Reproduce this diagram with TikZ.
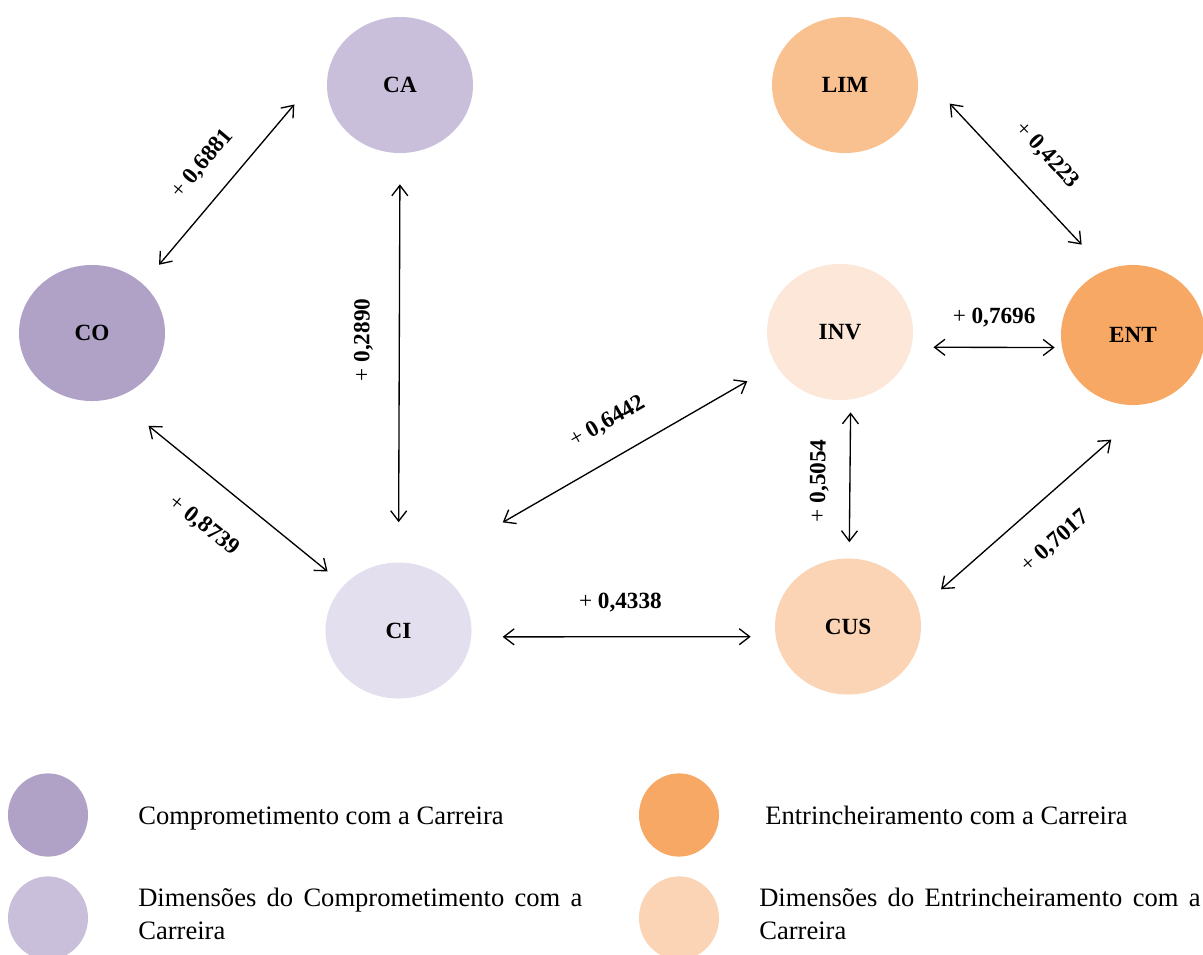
\documentclass[tikz,border=0pt]{standalone}
\usepackage{fontspec}
\setmainfont{Liberation Serif}
\usetikzlibrary{shapes.geometric,arrows.meta}

\definecolor{cocol}{HTML}{B0A2C7}
\definecolor{cacol}{HTML}{C9BFDB}
\definecolor{cicol}{HTML}{E4DFEE}
\definecolor{limcol}{HTML}{F9C190}
\definecolor{entcol}{HTML}{F7A864}
\definecolor{invcol}{HTML}{FCE7D8}
\definecolor{cuscol}{HTML}{FAD4B4}

\tikzset{
  constr/.style={ellipse, inner sep=0pt, minimum width=3.65cm, minimum height=3.4cm,
    font=\fontsize{16.5}{20}\selectfont\bfseries},
  link/.style={{Straight Barb[length=0.26cm,width=0.4cm]}-{Straight Barb[length=0.26cm,width=0.4cm]},
    line width=0.95pt},
  coef/.style={sloped, inner sep=0pt, font=\fontsize{16.5}{20}\selectfont},
  legdot/.style={ellipse, inner sep=0pt, minimum width=2cm, minimum height=2.08cm},
  legtext/.style={anchor=base west, inner sep=0pt, font=\fontsize{18.9}{23.5}\selectfont},
}

\begin{document}
\begin{tikzpicture}[x=0.025cm, y=-0.025cm]
    \useasboundingbox (0,0) rectangle (1203,954);
    % constructos
    \node[constr, fill=cacol] (ca) at (400,85) {CA};
    \node[constr, fill=limcol] (lim) at (845,85) {LIM};
    \node[constr, fill=cocol] (co) at (92,333) {CO};
    \node[constr, fill=invcol] (inv) at (840,332) {INV};
    \node[constr, fill=entcol, minimum width=3.6cm, minimum height=3.5cm] (ent) at (1133,335) {ENT};
    \node[constr, fill=cicol] (ci) at (398.5,630.5) {CI};
    \node[constr, fill=cuscol] (cus) at (848,626.5) {CUS};
    % correlacoes
    \draw[link, shorten <=0.625cm, shorten >=1.45cm] (co.44) -- (ca.160)
        node[coef, pos=.444, above=0.54cm] {+ \textbf{0,6881}};
    \draw[link, shorten <=1cm, shorten >=0.775cm] (ci.north) -- (ca.south)
        node[coef, pos=.543, above=0.64cm] {+ \textbf{0,2890}};
    \draw[link, shorten <=1.1cm, shorten >=0.53cm] (co.-71) -- (ci.140)
        node[coef, pos=.506, below=0.81cm] {+ \textbf{0,8739}};
    \draw[link, shorten <=2.23cm, shorten >=0.82cm] (ci.67) -- (inv.207)
        node[coef, pos=.569, above=0.61cm] {+ \textbf{0,6442}};
    \draw[link, shorten <=0.78cm, shorten >=0.62cm] (ci.-5) -- (cus.188)
        node[coef, pos=.49, above=0.59cm] {+ \textbf{0,4338}};
    \draw[link, shorten <=0.55cm, shorten >=0.18cm] (inv.-12) -- (ent.190)
        node[coef, pos=.549, above=0.49cm] {+ \textbf{0,7696}};
    \draw[link, shorten <=0.4cm, shorten >=0.32cm] (cus.89) -- (inv.-81)
        node[coef, pos=.486, above=0.51cm] {+ \textbf{0,5054}};
    \draw[link, shorten <=0.74cm, shorten >=1.41cm] (cus.14) -- (ent.-73)
        node[coef, pos=.469, below=0.74cm] {+ \textbf{0,7017}};
    \draw[link, shorten <=1.24cm, shorten >=0.87cm] (lim.14) -- (ent.113)
        node[coef, pos=.554, above=0.64cm] {+ \textbf{0,4223}};
    % legenda
    \node[legdot, fill=cocol] (leg1) at (48,815) {};
    \node[legdot, fill=cacol] (leg2) at (48,918) {};
    \node[legdot, fill=entcol] (leg3) at (679,815) {};
    \node[legdot, fill=cuscol] (leg4) at (679,918) {};
    \node[legtext] (txt1) at (138,824) {Comprometimento com a Carreira};
    \node[legtext, text width=11.1cm, align=justify] (txt2) at (138,906)
        {Dimensões do Comprometimento com a Carreira};
    \node[legtext] (txt3) at (765,824) {Entrincheiramento com a Carreira};
    \node[legtext, text width=11.03cm, align=justify] (txt4) at (759,906)
        {Dimensões do Entrincheiramento com a Carreira};
\end{tikzpicture}
\end{document}
